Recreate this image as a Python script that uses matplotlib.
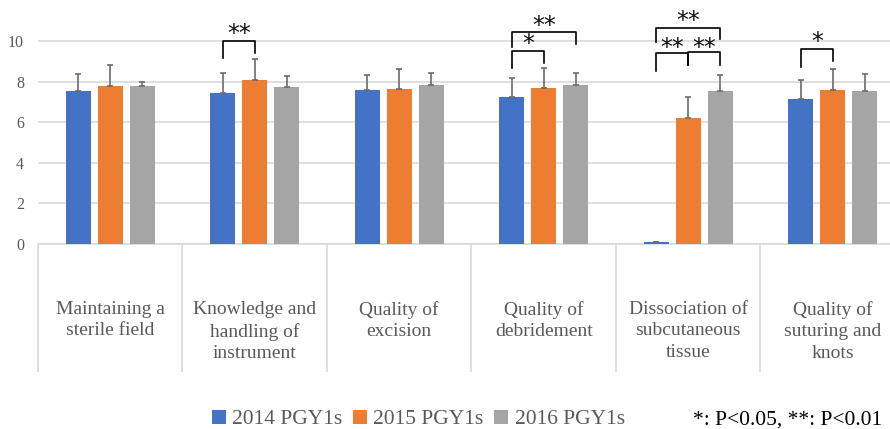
import numpy as np
import matplotlib.pyplot as plt

categories = ["Maintaining a\nsterile field", "Knowledge and\nhandling of\ninstrument",
              "Quality of\nexcision", "Quality of\ndebridement",
              "Dissociation of\nsubcutaneous\ntissue", "Quality of\nsuturing and\nknots"]
series = ["2014 PGY1s", "2015 PGY1s", "2016 PGY1s"]
means_2014 = [7.55, 7.45, 7.58, 7.22, 0.08, 7.13]
means_2015 = [7.80, 8.10, 7.62, 7.67, 6.20, 7.59]
means_2016 = [7.80, 7.75, 7.83, 7.83, 7.55, 7.55]
sd_2014 = [0.80, 0.95, 0.76, 0.94, 0.00, 0.93]
sd_2015 = [1.00, 1.00, 0.98, 1.00, 1.04, 1.01]
sd_2016 = [0.20, 0.55, 0.58, 0.58, 0.79, 0.82]

# significance brackets: (category, bar a, bar b, top, left leg end, right leg end, label, label height)
brackets = [
    (1, 0, 1, 10.0, 9.15, 9.40, "**", 10.35),
    (3, 0, 1, 9.52, 8.65, 8.90, "*", 9.85),
    (3, 0, 2, 10.43, 9.72, 9.85, "**", 10.75),
    (4, 0, 1, 9.40, 8.54, 8.80, "**", 9.65),
    (4, 1, 2, 9.44, 8.80, 8.80, "**", 9.65),
    (4, 0, 2, 10.66, 9.93, 10.08, "**", 10.98),
    (5, 0, 1, 9.59, 8.70, 9.00, "*", 9.95),
]

colors = ["#4472C4", "#ED7D31", "#A5A5A5"]
means = [means_2014, means_2015, means_2016]
sds = [sd_2014, sd_2015, sd_2016]

plt.rcParams["font.family"] = "serif"
plt.rcParams["font.serif"] = ["Liberation Serif", "DejaVu Serif"]

fig = plt.figure(figsize=(8.9, 4.29), dpi=100)
ax = fig.add_axes([38 / 890, 185 / 429, 867 / 890, 12 * 20.3 / 429])

x = np.arange(len(categories))
offset = 0.2215
width = 0.173
for k in range(3):
    xs = x + (k - 1) * offset
    ax.bar(xs, means[k], width, color=colors[k], label=series[k], zorder=3)
    ax.errorbar(xs, means[k], yerr=[np.zeros(len(x)), sds[k]], fmt="none",
                ecolor="#6b6b6b", elinewidth=1.2, capsize=2, capthick=1.2, zorder=4)

for cat, a, b, top, ya, yb, label, ly in brackets:
    xa = cat + (a - 1) * offset
    xb = cat + (b - 1) * offset
    ax.plot([xa, xa, xb, xb], [ya, top, top, yb], color="black", lw=1.2,
            zorder=5, clip_on=False)
    ax.text((xa + xb) / 2, ly, label, ha="center", va="center", fontsize=17,
            family="DejaVu Sans", color="#111111")

ax.set_xlim(-0.5, len(categories) - 0.5)
ax.set_ylim(0, 12)
ax.set_yticks(range(0, 11, 2))
ax.yaxis.grid(True, color="#d9d9d9", lw=1.2, zorder=0)
ax.tick_params(axis="y", length=0, pad=10, labelsize=11.5, labelcolor="#595959")

ax.set_xticks(x)
ax.set_xticklabels(categories, fontsize=14, color="#595959", linespacing=1.35)
ax.tick_params(axis="x", which="major", length=0, pad=41)
ax.set_xticks(np.arange(-0.5, len(categories)), minor=True)
ax.tick_params(axis="x", which="minor", length=92, color="#d9d9d9", width=1.2)

for s in ["top", "right", "left"]:
    ax.spines[s].set_visible(False)
ax.spines["bottom"].set_color("#d9d9d9")
ax.spines["bottom"].set_linewidth(1.2)

fig.legend(loc="center", bbox_to_anchor=(0.47, 0.022), ncol=3, frameon=False,
           prop={"size": 15.5}, labelcolor="#595959",
           handlelength=0.65, handleheight=0.65, handletextpad=0.3,
           columnspacing=0.5)
fig.text(0.991, 0.02, "*: P<0.05, **: P<0.01", ha="right", va="center",
         fontsize=15.5, color="black")

fig.savefig("out.png", dpi=100)
